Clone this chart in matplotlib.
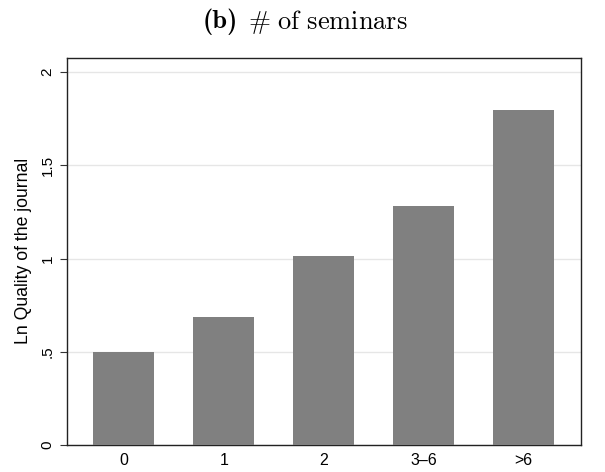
import matplotlib
matplotlib.use("Agg")
import matplotlib.pyplot as plt
from matplotlib.transforms import Bbox

categories = ["0", "1", "2", "3\u20136", ">6"]
values = [0.50, 0.686, 1.013, 1.28, 1.795]
yticks = [0, 0.5, 1, 1.5, 2]
ytick_labels = ["0", ".5", "1", "1.5", "2"]

plt.rcParams['font.family'] = ['Liberation Sans', 'DejaVu Sans']
plt.rcParams['mathtext.fontset'] = 'cm'

fig = plt.figure(figsize=(6.05, 4.72), dpi=100)
ax = fig.add_axes([67/605, 1-445/472, (581-67)/605, (445-57.7)/472])

x = list(range(len(categories)))
ax.bar(x, values, width=0.607, color="#808080", zorder=3)
ax.set_xlim(-0.567, 4.573)
ax.set_ylim(0, 2.077)
ax.set_yticks(yticks)
ax.set_yticklabels(ytick_labels, rotation=90, va="center", fontsize=11)
ax.set_xticks(x)
ax.set_xticklabels(categories, fontsize=11.5)
ax.tick_params(axis='x', length=0, pad=6)
ax.tick_params(axis='y', length=5, width=0.8, color="#333333", pad=4)
ax.grid(axis='y', color="#e6e6e6", linewidth=1, zorder=0)
for s in ax.spines.values():
    s.set_color("#222222")
    s.set_linewidth(1.0)
ax.set_ylabel("Ln Quality of the journal", fontsize=12.7, labelpad=6)

# Title: bold "(b)" + regular "# of seminars" (Computer Modern)
ty = 1 - 22/472
t1 = fig.text(0, ty, "(b)", family="cmb10", fontsize=19, ha="left", va="center")
t2 = fig.text(0, ty, r"$\#\ \mathrm{of\ seminars}$", fontsize=19, ha="left", va="center")
fig.canvas.draw()
r = fig.canvas.get_renderer()
w1 = t1.get_window_extent(r).width
w2 = t2.get_window_extent(r).width
gap = 10
total = w1 + gap + w2
x0 = (605 - total) / 2 + 3
t1.set_x(x0 / 605)
t2.set_x((x0 + w1 + gap) / 605)

fig.savefig("out.png", dpi=100, facecolor="white")
